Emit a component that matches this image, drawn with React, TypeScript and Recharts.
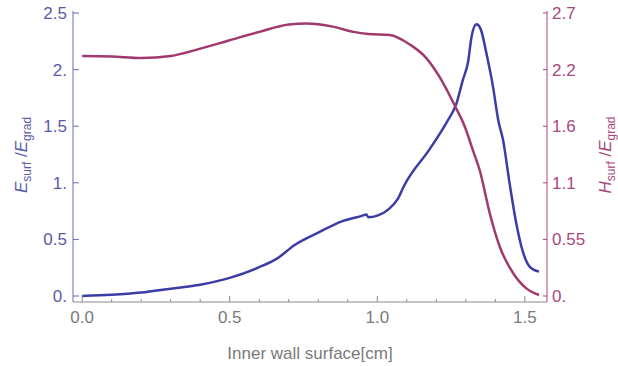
import React from 'react';
import { LineChart, Line, XAxis, YAxis } from 'recharts';

// E_surf/E_grad along the inner wall
const eX = [0, 0.1, 0.2, 0.3, 0.4, 0.5, 0.6, 0.66, 0.72, 0.8, 0.88, 0.95, 0.963, 0.97, 1.0, 1.04, 1.07, 1.09, 1.178, 1.234, 1.268, 1.29, 1.307, 1.32, 1.336, 1.35, 1.37, 1.392, 1.41, 1.426, 1.448, 1.471, 1.488, 1.516, 1.548];
const eY = [0, 0.01, 0.03, 0.065, 0.1, 0.16, 0.255, 0.33, 0.45, 0.56, 0.66, 0.71, 0.72, 0.695, 0.71, 0.77, 0.86, 0.97, 1.3, 1.53, 1.7, 1.91, 2.06, 2.3, 2.4, 2.36, 2.14, 1.85, 1.55, 1.38, 1.0, 0.64, 0.44, 0.26, 0.215];

// H_surf/E_grad (right axis units)
const hX = [0, 0.1, 0.2, 0.3, 0.4, 0.5, 0.6, 0.7, 0.76, 0.85, 0.92, 0.97, 1.042, 1.11, 1.166, 1.211, 1.262, 1.296, 1.324, 1.347, 1.381, 1.415, 1.46, 1.505, 1.548];
const hY = [2.29, 2.285, 2.27, 2.29, 2.36, 2.44, 2.52, 2.59, 2.6, 2.57, 2.52, 2.5, 2.49, 2.4, 2.27, 2.09, 1.82, 1.62, 1.39, 1.2, 0.79, 0.47, 0.22, 0.073, 0.01];

const xTicks = [0, 0.1, 0.2, 0.3, 0.4, 0.5, 0.6, 0.7, 0.8, 0.9, 1.0, 1.1, 1.2, 1.3, 1.4, 1.5];
const xMajor = [0, 0.5, 1.0, 1.5];
const xLabels = ['0.0', '0.5', '1.0', '1.5'];
const leftTicks = [0, 0.5, 1, 1.5, 2, 2.5];
const leftLabels = ['0.', '0.5', '1.', '1.5', '2.', '2.5'];
const rightTicks = [0, 0.54, 1.08, 1.62, 2.16, 2.7];
const rightLabels = ['0.', '0.55', '1.1', '1.6', '2.2', '2.7'];

const ePoints = eX.map((x, i) => ({ x, y: eY[i] }));
const hPoints = hX.map((x, i) => ({ x, y: hY[i] }));

const FONT = '"Liberation Sans", Arial, sans-serif';
const BLUE = '#3c3ca6';
const RED = '#a03a6e';
const BLUE_AX = '#6a6ab6';
const BLUE_TXT = '#5a5aaa';
const RED_AX = '#a8487e';
const GRAY = '#8a8a8a';

const BottomTick = (props: any) => {
  const { x, y, payload } = props;
  const i = xMajor.findIndex((m) => Math.abs(m - payload.value) < 1e-6);
  return (
    <g>
      <line x1={x} x2={x} y1={y} y2={y - (i >= 0 ? 6 : 3)} stroke={GRAY} />
      {i >= 0 && (
        <text x={x} y={y + 21} textAnchor="middle" fontSize={17} fontFamily={FONT} fill="#7a7a7a">
          {xLabels[i]}
        </text>
      )}
    </g>
  );
};

const TopTick = (props: any) => {
  const { x, y, payload } = props;
  const major = xMajor.some((m) => Math.abs(m - payload.value) < 1e-6);
  return <line x1={x} x2={x} y1={y} y2={y + (major ? 6 : 3)} stroke={GRAY} />;
};

const LeftTick = (props: any) => {
  const { x, y, payload } = props;
  const i = leftTicks.indexOf(payload.value);
  return (
    <g>
      <line x1={x} x2={x + 6} y1={y} y2={y} stroke={BLUE_AX} />
      <text x={x - 6} y={y} dy="0.35em" textAnchor="end" fontSize={17} fontFamily={FONT} fill={BLUE_TXT}>
        {leftLabels[i]}
      </text>
    </g>
  );
};

const RightTick = (props: any) => {
  const { x, y, payload } = props;
  const i = rightTicks.indexOf(payload.value);
  return (
    <g>
      <line x1={x} x2={x - 4} y1={y} y2={y} stroke={RED_AX} />
      <text x={x + 5} y={y} dy="0.35em" textAnchor="start" fontSize={17} fontFamily={FONT} fill={RED_AX}>
        {rightLabels[i]}
      </text>
    </g>
  );
};

// rotated ratio title; own prop names so the label clone can't override them
const RatioTitle = ({ sym, posX, tint }: { sym: string; posX: number; tint: string }) => (
  <text
    x={posX}
    y={155}
    transform={`rotate(-90, ${posX}, 155)`}
    textAnchor="middle"
    fontSize={17}
    fontFamily={FONT}
    fill={tint}
  >
    <tspan fontStyle="italic">{sym}</tspan>
    <tspan fontSize={12} dy={4}>surf</tspan>
    <tspan dy={-4}> /</tspan>
    <tspan fontStyle="italic">E</tspan>
    <tspan fontSize={12} dy={4}>grad</tspan>
  </text>
);

const XTitle = () => (
  <text x={310} y={359} textAnchor="middle" fontSize={17} fontFamily={FONT} fill="#7a7a7a">
    Inner wall surface[cm]
  </text>
);

export default function App() {
  return (
    <div style={{ position: 'absolute', left: 0, top: 0, width: 618, height: 366, background: '#fff' }}>
      <LineChart width={618} height={366} margin={{ top: 11, right: 11, bottom: 34, left: 13 }}>
        <XAxis
          dataKey="x"
          type="number"
          domain={[-0.031, 1.575]}
          allowDataOverflow
          ticks={xTicks}
          interval={0}
          height={30}
          tickSize={0}
          tickMargin={0}
          tickLine={false}
          axisLine={{ stroke: GRAY }}
          tick={(p: any) => <BottomTick {...p} />}
          label={<XTitle />}
        />
        <XAxis
          xAxisId="top"
          orientation="top"
          dataKey="x"
          type="number"
          domain={[-0.031, 1.575]}
          allowDataOverflow
          ticks={xTicks}
          interval={0}
          height={0}
          tickSize={0}
          tickMargin={0}
          tickLine={false}
          axisLine={{ stroke: GRAY }}
          tick={(p: any) => <TopTick {...p} />}
        />
        <YAxis
          yAxisId="left"
          type="number"
          domain={[-0.053, 2.518]}
          allowDataOverflow
          ticks={leftTicks}
          interval={0}
          width={60}
          tickSize={0}
          tickMargin={0}
          tickLine={false}
          axisLine={{ stroke: BLUE_AX }}
          tick={(p: any) => <LeftTick {...p} />}
          label={<RatioTitle sym="E" posX={27} tint={BLUE_TXT} />}
        />
        <YAxis
          yAxisId="right"
          orientation="right"
          type="number"
          domain={[-0.057, 2.719]}
          allowDataOverflow
          ticks={rightTicks}
          interval={0}
          width={60}
          tickSize={0}
          tickMargin={0}
          tickLine={false}
          axisLine={{ stroke: RED_AX }}
          tick={(p: any) => <RightTick {...p} />}
          label={<RatioTitle sym="H" posX={611} tint={RED_AX} />}
        />
        <Line
          yAxisId="left"
          data={ePoints}
          dataKey="y"
          type="monotone"
          stroke={BLUE}
          strokeWidth={2.5}
          dot={false}
          isAnimationActive={false}
        />
        <Line
          yAxisId="right"
          data={hPoints}
          dataKey="y"
          type="monotone"
          stroke={RED}
          strokeWidth={2.5}
          dot={false}
          isAnimationActive={false}
        />
      </LineChart>
    </div>
  );
}
